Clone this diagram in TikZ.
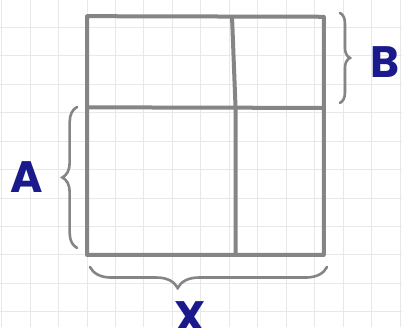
\documentclass[tikz,border=0pt]{standalone}
\usepackage{fontspec}
\setmainfont{Poppins}
\usetikzlibrary{decorations.pathreplacing}
\definecolor{penblue}{HTML}{1A1A8C}
\definecolor{pengrey}{HTML}{858585}
\definecolor{papergrid}{HTML}{E8E8E8}
\tikzset{
  gridline/.style={papergrid, line width=1pt},
  boxline/.style={pengrey, line width=4pt, line cap=round, line join=round},
  bracket/.style={pengrey, line width=2.6pt, line cap=round,
    decorate, decoration={brace, amplitude=#1}},
  letter/.style={text=penblue, inner sep=0pt,
    font=\fontsize{44}{44}\selectfont\bfseries},
}
\begin{document}
\begin{tikzpicture}[x=29.4pt, y=29.4pt]
        \useasboundingbox (-2.96,-2.45) rectangle (10.71,8.67);

        % Kariertes Papier
        \fill[white] (-2.96,-2.45) rectangle (10.71,8.67);
        \draw[gridline] (-2.96,-2.45) grid (10.71,8.67);

        % Quadrat
        \coordinate (sw) at (0,0);
        \coordinate (se) at (8.05,0);
        \coordinate (ne) at (8.05,8.1);
        \coordinate (nw) at (0,8.12);
        \draw[boxline] (sw) -- (se) -- (ne) -- (nw) -- cycle;

        % Teilung
        \draw[boxline] (4.93,8.1) -- (5.05,5) -- (5.05,0);
        \draw[boxline] (0,5.02) -- (8.05,5);

        % Klammern
        \draw[bracket=14.7pt] (-0.34,0.24) -- (-0.34,5.03);
        \draw[bracket=10pt] (8.6,8.23) -- (8.6,5.17);
        \draw[bracket=21pt, decoration={aspect=0.63}] (8.16,-0.41) -- (0.1,-0.41);

        % Beschriftung
        \node[letter] (A) at (-2.04,2.65) {A};
        \node[letter] (B) at (10.14,6.56) {B};
        \node[letter] (X) at (3.5,-2.1) {X};
    \end{tikzpicture}
\end{document}
